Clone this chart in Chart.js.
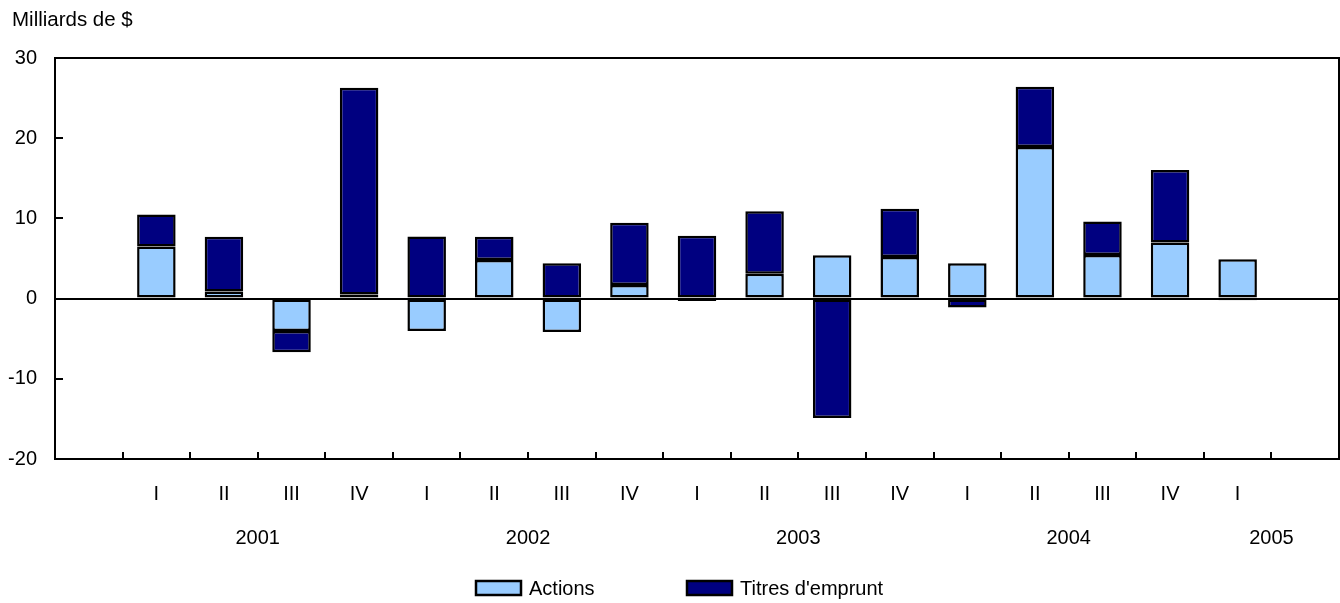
<!DOCTYPE html>
<html>
<head>
<meta charset="utf-8">
<script src="https://cdn.jsdelivr.net/npm/chart.js@4.4.1/dist/chart.umd.min.js"></script>
<style>
  html, body { margin: 0; padding: 0; background: #fff; }
  #wrap { width: 1340px; height: 603px; position: relative; }
</style>
</head>
<body>
<div id="wrap"><canvas id="flowChart" width="1340" height="603"></canvas></div>
<script>
// quarters, with an empty slot at each end of the axis
const quarters = ['', 'I', 'II', 'III', 'IV', 'I', 'II', 'III', 'IV', 'I', 'II', 'III', 'IV', 'I', 'II', 'III', 'IV', 'I', ''];
const years = ['2001', '2002', '2003', '2004', '2005'];
const yearFirst = [1, 5, 9, 13, 17];
const yearLast = [4, 8, 12, 16, 18];

const actions = [null, 6.5, 0.9, -4.05, 0.5, -4.05, 4.8, -4.15, 1.7, -0.3, 3.1, 5.4, 5.2, 4.4, 18.9, 5.45, 7.0, 4.9, null];
const titres = [null, 4.0, 6.8, -2.65, 25.8, 7.75, 2.9, 4.4, 7.75, 7.85, 7.8, -14.9, 6.0, -1.1, 7.5, 4.15, 9.05, -0.2, null];

const yTicks = [-20, -10, 0, 10, 20, 30];

const FONT = '"Liberation Sans", Arial, Helvetica, sans-serif';

const extras = {
  id: 'extras',
  afterDraw(chart) {
    const ctx = chart.ctx;
    const area = chart.chartArea;
    const x = chart.scales.x;
    const y = chart.scales.y;
    ctx.save();
    ctx.strokeStyle = '#000';
    ctx.lineWidth = 2;
    ctx.strokeRect(area.left, area.top, area.right - area.left, area.bottom - area.top);

    // inward tick marks
    const half = (x.getPixelForValue(1) - x.getPixelForValue(0)) / 2;
    ctx.beginPath();
    for (let i = 1; i < quarters.length; i++) {
      const px = Math.round(x.getPixelForValue(i) - half);
      ctx.moveTo(px, area.bottom);
      ctx.lineTo(px, area.bottom - 7);
    }
    yTicks.forEach(v => {
      const py = Math.round(y.getPixelForValue(v));
      ctx.moveTo(area.left, py);
      ctx.lineTo(area.left + 8, py);
    });
    ctx.stroke();

    // year labels under the quarters
    ctx.fillStyle = '#000';
    ctx.font = '20px ' + FONT;
    ctx.textAlign = 'center';
    ctx.textBaseline = 'middle';
    years.forEach((yr, i) => {
      const cx = (x.getPixelForValue(yearFirst[i]) + x.getPixelForValue(yearLast[i])) / 2;
      ctx.fillText(yr, cx, 538);
    });

    // unit label
    ctx.textAlign = 'left';
    ctx.textBaseline = 'alphabetic';
    ctx.font = '20.5px ' + FONT;
    ctx.fillText('Milliards de $', 12, 26);

    // legend
    const legendX = [476, 687];
    ctx.font = '20px ' + FONT;
    ctx.textBaseline = 'middle';
    chart.data.datasets.forEach((ds, i) => {
      ctx.fillStyle = ds.backgroundColor;
      ctx.fillRect(legendX[i], 581, 45, 14);
      ctx.lineWidth = 2.5;
      ctx.strokeStyle = '#000';
      ctx.strokeRect(legendX[i], 581, 45, 14);
      ctx.fillStyle = '#000';
      ctx.fillText(ds.label, legendX[i] + 53, 589);
    });
    ctx.restore();
  }
};

new Chart(document.getElementById('flowChart').getContext('2d'), {
  type: 'bar',
  data: {
    labels: quarters,
    datasets: [{
      label: 'Actions',
      data: actions,
      backgroundColor: '#99CCFF',
      borderColor: '#000',
      borderWidth: 2.5,
      borderSkipped: false
    }, {
      label: "Titres d'emprunt",
      data: titres,
      backgroundColor: '#000080',
      borderColor: '#000',
      borderWidth: 2.5,
      borderSkipped: false
    }]
  },
  options: {
    responsive: false,
    animation: false,
    devicePixelRatio: 1,
    layout: { padding: { top: 58, right: 1, left: 0, bottom: 0 } },
    datasets: {
      bar: { barPercentage: 0.57, categoryPercentage: 1 }
    },
    plugins: {
      legend: { display: false },
      tooltip: { enabled: false }
    },
    scales: {
      x: {
        stacked: true,
        grid: { display: false },
        border: { display: true, color: '#000', width: 2 },
        ticks: {
          color: '#000',
          font: { family: FONT, size: 20 },
          padding: 15,
          maxRotation: 0,
          autoSkip: false
        },
        afterFit(scale) { scale.height = 144; }
      },
      y: {
        stacked: true,
        min: -20,
        max: 30,
        afterBuildTicks(scale) { scale.ticks = yTicks.map(v => ({ value: v })); },
        grid: {
          drawTicks: false,
          lineWidth: 2,
          color: c => (c.tick && c.tick.value === 0 ? '#000' : 'rgba(0,0,0,0)')
        },
        border: { display: true, color: '#000', width: 2 },
        ticks: {
          color: '#000',
          font: { family: FONT, size: 20 },
          padding: 18
        },
        afterFit(scale) { scale.width = 55; }
      }
    }
  },
  plugins: [extras]
});
</script>
</body>
</html>
